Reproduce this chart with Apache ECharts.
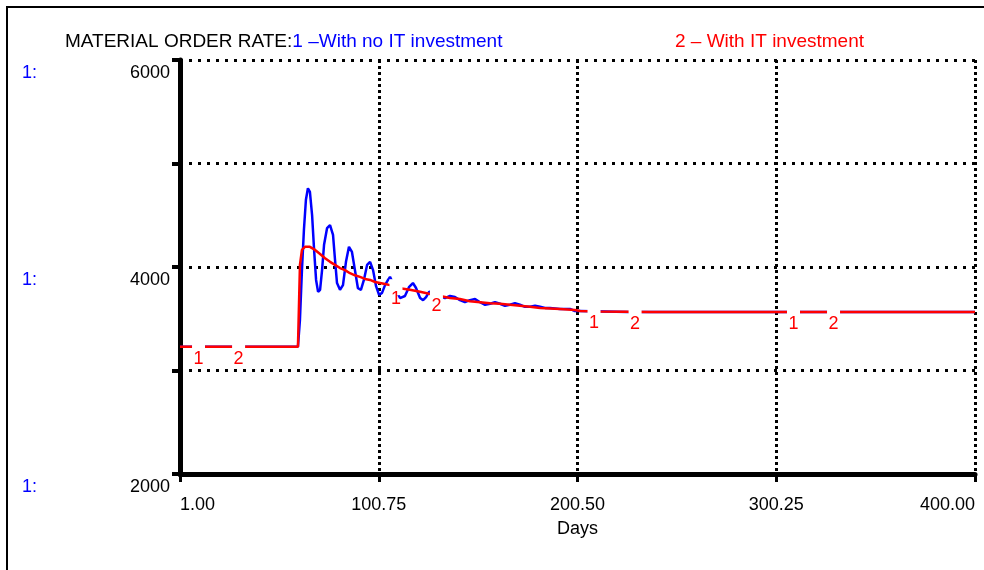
<!DOCTYPE html>
<html>
<head>
<meta charset="utf-8">
<script src="https://cdn.jsdelivr.net/npm/echarts@6/dist/echarts.min.js"></script>
<style>
  html, body { margin: 0; padding: 0; background: #fff; }
  #main { width: 984px; height: 570px; }
</style>
</head>
<body>
<div id="main"></div>
<script>
// series 1 - with no IT investment (day, value)
const blueDays = [1, 60.2, 61.2, 62.2, 63.2, 64.2, 65.2, 66.2, 67.3, 68.3, 69.3, 70.3, 71.3, 72.3, 73.3, 74.8,
  76.3, 77.8, 78.8, 79.8, 81.3, 82.8, 84.3, 85.8, 87.3, 88.8, 90.3, 91.8, 93.3, 94.9, 96.4, 97.9,
  99.4, 100.9, 102.4, 103.9, 105.4, 106.4, 108.9, 111.4, 113.9, 115.9, 117.9, 119.4, 121.5, 123,
  124.5, 126, 129, 131.5, 134, 136.5, 139, 141.5, 144, 146.5, 149.1, 151.6, 154.1, 156.6, 159.1,
  161.6, 164.1, 166.6, 169.1, 171.6, 174.2, 176.7, 179.2, 181.7, 184.2, 186.7, 191.7, 196.7, 199.2,
  201.8, 225.9, 400];
const blueValues = [3230, 3230, 3490, 3970, 4360, 4650, 4760, 4725, 4500, 4165, 3875, 3760, 3780, 3970, 4215, 4375,
  4405, 4310, 4070, 3845, 3780, 3825, 4050, 4195, 4145, 3970, 3795, 3780, 3875, 4020, 4050, 3970,
  3815, 3730, 3750, 3825, 3875, 3905, 3800, 3700, 3720, 3805, 3845, 3800, 3700, 3680,
  3710, 3760, 3750, 3720, 3700, 3720, 3710, 3680, 3660, 3680, 3690, 3660, 3635, 3645, 3660,
  3645, 3625, 3635, 3650, 3635, 3615, 3615, 3625, 3615, 3605, 3605, 3595, 3595, 3575,
  3575, 3565, 3565];

// series 2 - with IT investment
const redDays = [1, 60.2, 60.7, 61.2, 62.2, 63.7, 66.2, 68.8, 71.3, 73.8, 76.3, 78.8, 81.3, 83.8, 86.3, 88.8,
  91.3, 93.9, 96.4, 98.9, 101.4, 103.9, 106.4, 108.9, 111.4, 116.4, 121.5, 126.5, 131.5, 136.5,
  141.5, 146.5, 151.6, 156.6, 161.6, 166.6, 171.6, 176.7, 181.7, 191.7, 199.2, 201.8, 211.8, 236.9, 400];
const redValues = [3230, 3230, 3230, 4020, 4165, 4195, 4195, 4165, 4125, 4085, 4050, 4020, 3990, 3970, 3940, 3920,
  3905, 3885, 3875, 3855, 3845, 3835, 3825, 3815, 3795, 3780, 3760, 3740, 3720, 3700,
  3690, 3670, 3660, 3650, 3645, 3635, 3625, 3615, 3605, 3595, 3585, 3575, 3570, 3565, 3565];

// curve number tags
const tagText = ['1', '2', '1', '2', '1', '2', '1', '2'];
const tagDays = [10.3, 30.4, 109.4, 129.7, 208.8, 229.4, 308.9, 329.0];
const tagValues = [3230, 3230, 3805, 3735, 3572, 3565, 3565, 3565];

const yTicks = [2000, 6000, 1000];
const xStart = 1, xEnd = 400, xStep = 99.75;

const FONT = 'Liberation Sans';
const toPts = (d, v) => d.map((x, i) => [x - xStart, v[i]]);

const chart = echarts.init(document.getElementById('main'));
chart.setOption({
  animation: false,
  textStyle: { fontFamily: FONT },
  grid: { left: 180, right: 9, top: 60, bottom: 96, outerBoundsMode: 'none' },
  graphic: [{
    type: 'rect', shape: { x: 7, y: 7, width: 1000, height: 600 },
    style: { fill: 'none', stroke: '#000', lineWidth: 2 }, silent: true
  }],
  title: [{
    left: 65, top: 32, padding: 0,
    text: '{k|MATERIAL ORDER RATE:}{b|1 –With no IT investment}',
    textStyle: {
      rich: {
        k: { fontSize: 19, color: '#000', fontWeight: 'normal', fontFamily: FONT },
        b: { fontSize: 19, color: '#0000ff', fontWeight: 'normal', fontFamily: FONT }
      }
    }
  }, {
    left: 675, top: 32, padding: 0,
    text: '2 – With IT investment',
    textStyle: { fontSize: 19, color: '#ff0000', fontWeight: 'normal', fontFamily: FONT }
  }],
  xAxis: {
    type: 'value', min: 0, max: xEnd - xStart, interval: xStep,
    name: 'Days', nameLocation: 'middle', nameGap: 46,
    nameTextStyle: { fontSize: 18, color: '#000' },
    axisLine: { lineStyle: { color: '#000', width: 5 } },
    axisTick: { length: 8, lineStyle: { color: '#000', width: 3 } },
    axisLabel: {
      fontSize: 18, color: '#000', margin: 22,
      alignMinLabel: 'left', alignMaxLabel: 'right',
      formatter: v => (v + xStart).toFixed(2)
    },
    splitLine: { show: true, lineStyle: { color: '#000', width: 3, type: [3, 3] } }
  },
  yAxis: [{
    type: 'value', min: yTicks[0], max: yTicks[1], interval: yTicks[2],
    axisLine: { show: true, lineStyle: { color: '#000', width: 5 } },
    axisTick: { show: true, length: 8, lineStyle: { color: '#000', width: 4 } },
    axisLabel: {
      fontSize: 18, color: '#000', margin: 10, verticalAlign: 'top', padding: [4, 0, 0, 0],
      formatter: v => (v % 2000 === 0 ? String(v) : '')
    },
    splitLine: { show: true, lineStyle: { color: '#000', width: 3, type: [3, 6] } }
  }, {
    type: 'value', min: yTicks[0], max: yTicks[1], interval: yTicks[2],
    position: 'left', offset: 158,
    axisLine: { show: false }, axisTick: { show: false }, splitLine: { show: false },
    axisLabel: {
      fontSize: 18, color: '#0000ff', margin: 0, align: 'left', verticalAlign: 'top', padding: [4, 0, 0, 0],
      formatter: v => (v % 2000 === 0 ? '1:' : '')
    }
  }],
  series: [{
    name: '1 – With no IT investment', type: 'line', data: toPts(blueDays, blueValues),
    showSymbol: false, lineStyle: { color: '#0000ff', width: 2.5 }, z: 3
  }, {
    name: '2 – With IT investment', type: 'line', data: toPts(redDays, redValues),
    showSymbol: false, lineStyle: { color: '#ff0000', width: 2.5 }, z: 4
  }, {
    type: 'scatter', data: toPts(tagDays, tagValues), silent: true, z: 10,
    symbol: 'rect', symbolSize: [13, 16], itemStyle: { color: '#fff', opacity: 1 },
    label: {
      show: true, position: 'inside', offset: [0, 12], fontSize: 18, color: '#ff0000',
      formatter: p => tagText[p.dataIndex]
    }
  }]
});
</script>
</body>
</html>
